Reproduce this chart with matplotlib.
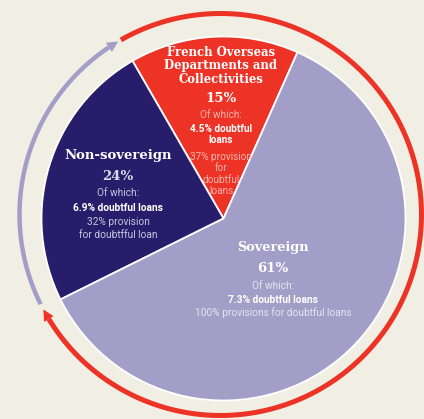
import numpy as np
import matplotlib.pyplot as plt
from matplotlib.patches import Polygon

# data
labels = ["French Overseas\nDepartments and\nCollectivities", "Non-sovereign", "Sovereign"]
shares = [15, 24, 61]
share_text = ["15%", "24%", "61%"]
colors = ["#ec3326", "#281d6b", "#a39ec7"]
of_which = ["4.5% doubtful\nloans", "6.9% doubtful loans", "7.3% doubtful loans"]
provision = ["37% provision\nfor\ndoubtful\nloans", "32% provision\nfor doubtfful loan",
             "100% provisions for doubtful loans"]

BG = "#f1eee4"
W, H = 424, 419
fig = plt.figure(figsize=(W / 100, H / 100), dpi=100, facecolor=BG)
ax = fig.add_axes([0, 0, 1, 1])
ax.set_facecolor(BG)

cx, cy, r = 223.5, H - 218.5, 182
ax.pie(shares, colors=colors, startangle=66, counterclock=True, center=(cx, cy), radius=r,
       wedgeprops=dict(edgecolor="white", linewidth=1.3))

# outer arrows (clockwise), ring is a bit off the pie centre
rx, ry, R = 220.5, H - 214.5, 201


def arc_arrow(a0, a1, color, lw, head_len=11, head_w=11):
    # arc from a0 to a1 (degrees, decreasing), head at a1
    back = np.degrees(head_len / R)
    t = np.radians(np.linspace(a0, a1 + back, 300))
    ax.plot(rx + R * np.cos(t), ry + R * np.sin(t), color=color, lw=lw,
            solid_capstyle="butt", clip_on=False)
    tip = np.radians(a1)
    base = np.radians(a1 + back)
    tx, ty = rx + R * np.cos(tip), ry + R * np.sin(tip)
    bx, by = rx + R * np.cos(base), ry + R * np.sin(base)
    nx, ny = np.cos(base), np.sin(base)
    head = Polygon([[tx, ty], [bx + nx * head_w / 2, by + ny * head_w / 2],
                    [bx - nx * head_w / 2, by - ny * head_w / 2]], closed=True, color=color, lw=0)
    ax.add_patch(head)


arc_arrow(119.7, -151.8, colors[0], 3.6)
arc_arrow(206.5, 120.6, "#a39ec7", 3.2)

serif = "DejaVu Serif"
sans = "Roboto"


def txt(x, y, s, **kw):
    ax.text(x, H - y, s, ha="center", va="center", **kw)


# French overseas
txt(221, 66, labels[0], family=serif, weight="bold", color="white", fontsize=8.4, linespacing=1.05)
txt(221, 99, share_text[0], family=serif, weight="bold", color="white", fontsize=9.5)
txt(221, 115, "Of which:", family=sans, color="#f7b3aa", fontsize=7.2)
txt(221, 134.5, of_which[0], family=sans, weight="bold", color="white", fontsize=7.2, linespacing=1.1)
txt(221, 174, provision[0], family=sans, color="#f7b3aa", fontsize=7.2, linespacing=1.18)

# Non-sovereign
txt(118, 156, labels[1], family=serif, weight="bold", color="white", fontsize=9.5)
txt(118, 177, share_text[1], family=serif, weight="bold", color="#dcdaea", fontsize=9.5)
txt(118, 193, "Of which:", family=sans, color="#c9c6de", fontsize=7.3)
txt(118, 208, of_which[1], family=sans, weight="bold", color="white", fontsize=7.3)
txt(118, 228.5, provision[1], family=sans, color="#c9c6de", fontsize=7.3, linespacing=1.45)

# Sovereign
txt(273, 248, labels[2], family=serif, weight="bold", color="white", fontsize=9.3)
txt(273, 268, share_text[2], family=serif, weight="bold", color="white", fontsize=9.5)
txt(273, 286, "Of which:", family=sans, color="#e6e4f0", fontsize=7.3)
txt(273, 300, of_which[2], family=sans, weight="bold", color="white", fontsize=7.3)
txt(273, 313, provision[2], family=sans, color="#e6e4f0", fontsize=7.3)

ax.set_xlim(0, W)
ax.set_ylim(0, H)
ax.set_aspect("equal")
ax.axis("off")

fig.savefig("out.png", dpi=100, facecolor=BG)
